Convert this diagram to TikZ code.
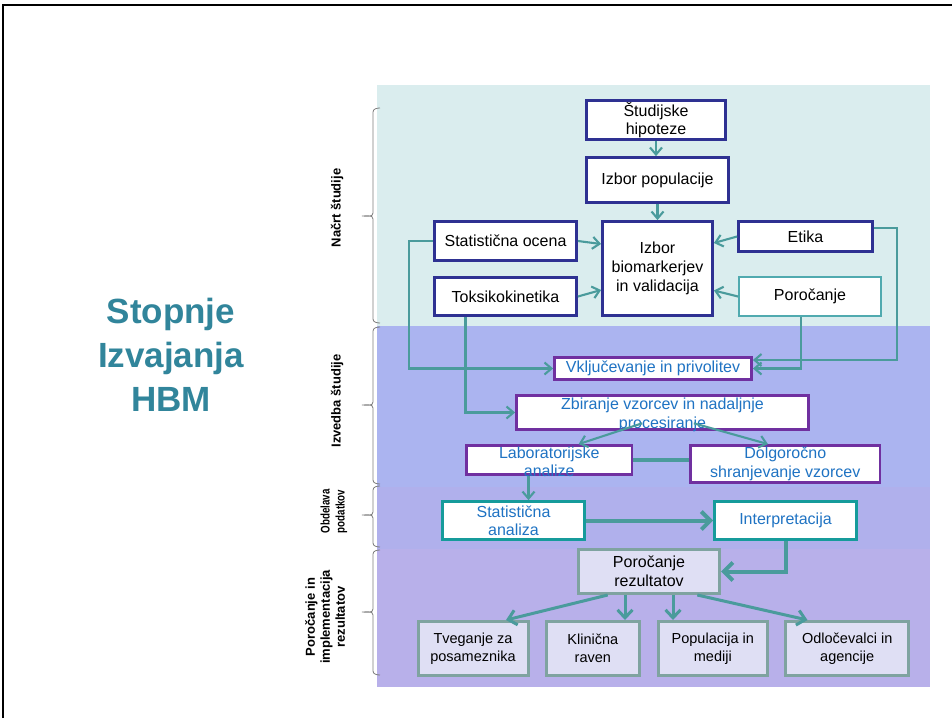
\documentclass[tikz,border=0pt]{standalone}
\usepackage{fontspec}
\setmainfont{Liberation Sans}
\newfontfamily\condfont[FakeStretch=0.78]{Liberation Sans}
\usetikzlibrary{arrows.meta,calc}
\definecolor{bandA}{RGB}{218,237,238}
\definecolor{bandB}{RGB}{171,180,240}
\definecolor{bandC}{RGB}{176,176,236}
\definecolor{bandD}{RGB}{184,176,234}
\definecolor{navy}{RGB}{46,49,146}
\definecolor{arrc}{RGB}{74,155,156}
\definecolor{tealb}{RGB}{80,170,175}
\definecolor{purp}{RGB}{112,48,160}
\definecolor{bluetxt}{RGB}{31,115,195}
\definecolor{statc}{RGB}{22,155,155}
\definecolor{greyb}{RGB}{127,163,160}
\definecolor{boxfill}{RGB}{223,223,244}
\definecolor{titlec}{RGB}{49,133,155}
\definecolor{brcc}{RGB}{125,125,125}
\begin{document}
\begin{tikzpicture}[x=1pt,y=-1pt,
  box/.style={draw, fill=white, inner sep=0pt, align=center, font=\fontsize{16}{18.5}\selectfont},
  navybox/.style={box, draw=navy, line width=2.8pt},
  tealbox/.style={box, draw=tealb, line width=2pt},
  purplebox/.style={box, draw=purp, line width=2.8pt, text=bluetxt, font=\fontsize{16}{19.5}\selectfont},
  purpletext/.style={inner sep=0pt, align=center, text=bluetxt, font=\fontsize{16}{19.5}\selectfont},
  statbox/.style={box, draw=statc, line width=3.2pt, text=bluetxt, font=\fontsize{16}{18}\selectfont},
  greybox/.style={box, draw=greyb, fill=boxfill, line width=3pt},
  lowbox/.style={greybox, minimum height=54pt, font=\fontsize{14.5}{18.3}\selectfont},
  arr/.style={draw=arrc, line width=2.1pt, -{Straight Barb[length=7pt,width=12pt]}},
  midarr/.style={draw=arrc, line width=3pt, -{Straight Barb[length=8pt,width=15pt]}},
  thickarr/.style={draw=arrc, line width=4pt, -{Straight Barb[length=9pt,width=18pt]}},
  thickline/.style={draw=arrc, line width=3.5pt},
  brc/.style={draw=brcc, line width=0.8pt},
  sidelbl/.style={inner sep=0pt, align=center, rotate=90, font=\fontsize{13}{15}\bfseries\selectfont},
  ttl/.style={inner sep=0pt, align=center, text=titlec, font=\fontsize{35}{44.2}\bfseries\selectfont}
]
\useasboundingbox (0,0) rectangle (952,718);
\fill[white] (0,0) rectangle (952,718);
% bands
\fill[bandA] (377,85) rectangle (930,326);
\fill[bandB] (377,326) rectangle (930,487);
\fill[bandC] (377,487) rectangle (930,549);
\fill[bandD] (377,549) rectangle (930,687);
% frame
\draw[line width=2.5pt] (3,718) -- (3,5) -- (952,5);
% braces
\draw[brc] (380,108) to[out=180,in=90] (373,112) -- (373,213) to[out=-90,in=0] (362,216) to[out=0,in=90] (373,219) -- (373,319) to[out=-90,in=180] (380,323);
\draw[brc] (380,327) to[out=180,in=90] (373,331) -- (373,402) to[out=-90,in=0] (362,405) to[out=0,in=90] (373,408) -- (373,480) to[out=-90,in=180] (380,484);
\draw[brc] (380,486) to[out=180,in=90] (373,490) -- (373,512) to[out=-90,in=0] (362,515) to[out=0,in=90] (373,518) -- (373,543) to[out=-90,in=180] (380,547);
\draw[brc] (380,550) to[out=180,in=90] (373,554) -- (373,609) to[out=-90,in=0] (362,612) to[out=0,in=90] (373,615) -- (373,671) to[out=-90,in=180] (380,675);
% side labels
\node[sidelbl] (l1) at (337,208) {Načrt študije};
\node[sidelbl, font=\fontsize{12.5}{15}\condfont\bfseries\selectfont] (l3) at (334,511.5) {Obdelava\\podatkov};
\node[sidelbl] (l2) at (337,401) {Izvedba študije};
\node[sidelbl] (l4) at (325,617) {Poročanje in\\implementacija\\rezultatov};
% title
\node[ttl] (title) at (171,354.8) {Stopnje\\Izvajanja\\HBM};
% boxes
\node[navybox, minimum width=139pt, minimum height=39pt] (hyp) at (656,120) {Študijske\\hipoteze};
\node[navybox, minimum width=142pt, minimum height=45pt] (pop) at (657.5,180) {Izbor populacije};
\node[navybox, minimum width=142pt, minimum height=39pt] (stoc) at (505.5,241) {Statistična ocena};
\node[navybox, minimum width=110pt, minimum height=94pt, font=\fontsize{16}{19}\selectfont] (bio) at (657.5,268.5) {Izbor\\biomarkerjev\\in validacija};
\node[navybox, minimum width=134pt, minimum height=30pt] (etika) at (805.5,236.5) {Etika};
\node[navybox, minimum width=142pt, minimum height=38pt] (toks) at (505.5,296.5) {Toksikokinetika};
\node[tealbox, minimum width=142pt, minimum height=39pt] (poro) at (810,296.5) {Poročanje};
\node[purplebox, minimum width=197pt, minimum height=22pt] (vklj) at (653,368.5) {Vključevanje in privolitev};
\node[purplebox, minimum width=292pt, minimum height=34pt,
  label={[purpletext, yshift=-2.5pt]center:{Zbiranje vzorcev in nadaljnje\\procesiranje}}] (zbir) at (662.5,412.5) {};
\node[purplebox, minimum width=165.5pt, minimum height=29pt,
  label={[purpletext, font=\fontsize{16}{18.5}\selectfont, yshift=-2pt]center:{Laboratorijske\\analize}}] (lab) at (549.25,460) {};
\node[purplebox, minimum width=189.5pt, minimum height=37pt, font=\fontsize{16}{19}\selectfont] (dolg) at (785.25,464) {Dolgoročno\\shranjevanje vzorcev};
\node[statbox, minimum width=141.5pt, minimum height=37.5pt] (stan) at (513.5,520.5) {Statistična\\analiza};
\node[statbox, minimum width=141.5pt, minimum height=37.5pt] (interp) at (785.5,520.5) {Interpretacija};
\node[greybox, minimum width=141pt, minimum height=44pt, font=\fontsize{16}{19.3}\selectfont] (porrez) at (649,571.5) {Poročanje\\rezultatov};
\node[lowbox, minimum width=110pt] (tveg) at (473,648.5) {Tveganje za\\posameznika};
\node[lowbox, minimum width=93.4pt] (klin) at (592.8,648.5) {Klinična\\raven};
\node[lowbox, minimum width=109.4pt] (popm) at (712.8,648.5) {Populacija in\\mediji};
\node[lowbox, minimum width=122.6pt] (odlo) at (847.2,648.5) {Odločevalci in\\agencije};
% connectors
\draw[arr] (hyp.south) -- (hyp.south |- pop.north);
\draw[arr] (pop.south) -- (pop.south |- bio.north);
\draw[arr] (stoc.east) -- (bio.west |- 0,244);
\draw[arr] (toks.east) -- (bio.west |- 0,290);
\draw[arr] (etika.west) -- (bio.east |- 0,243);
\draw[arr] (poro.west) -- (bio.east |- 0,290.5);
\draw[arr] (stoc.west) -- ++(-24.4,0) |- (vklj.west);
\draw[arr] (etika.east |- 0,228.3) -- ++(23,0) |- (vklj.east |- 0,360);
\draw[arr] ([xshift=-8.7pt]poro.south) |- (vklj.east);
\draw[arr] ([xshift=-40pt]toks.south) |- (zbir.west);
\draw[arr] ($(zbir.center)+(-20.4,10.8)$) -- ($(lab.north)+(29.4,0)$);
\draw[arr] ($(zbir.center)+(31.3,10.8)$) -- ($(dolg.north)+(-17.3,0)$);
\draw[thickline] (lab.east) -- (dolg.west |- lab.east);
\draw[arr] ([xshift=-20.75pt]lab.south) -- ([xshift=-20.75pt]lab.south |- stan.north);
\draw[thickarr] (stan.east) -- (interp.west);
\draw[thickarr] (interp.south) |- (porrez.east);
\draw[midarr] ([xshift=-41.3pt]porrez.south) -- ($(tveg.north)+(33,0)$);
\draw[midarr] ([xshift=-24pt]porrez.south) -- ([xshift=-24pt]porrez.south |- klin.north);
\draw[midarr] ([xshift=24pt]porrez.south) -- ([xshift=24pt]porrez.south |- popm.north);
\draw[midarr] ([xshift=48.3pt]porrez.south) -- ($(odlo.north)+(-39.7,0)$);
\end{tikzpicture}
\end{document}
